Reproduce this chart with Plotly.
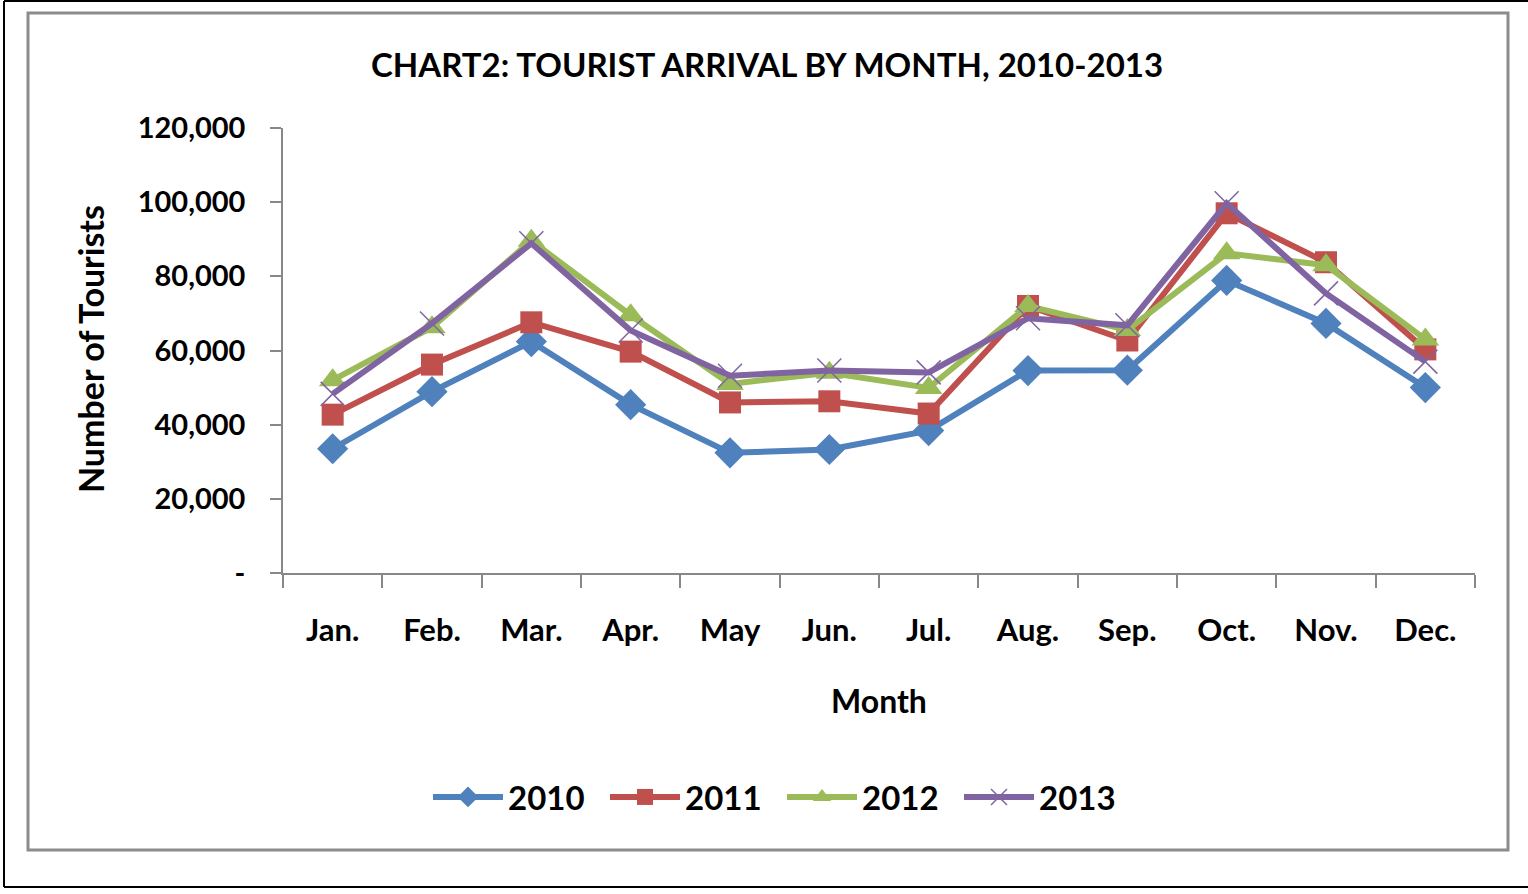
import plotly.graph_objects as go

months = ["Jan.", "Feb.", "Mar.", "Apr.", "May", "Jun.", "Jul.", "Aug.", "Sep.", "Oct.", "Nov.", "Dec."]
y2010 = [33500, 48900, 62400, 45400, 32400, 33300, 38400, 54600, 54700, 78900, 67300, 50000]
y2011 = [42700, 56200, 67600, 59700, 46000, 46300, 43000, 72000, 62700, 97000, 83800, 60300]
y2012 = [52000, 66300, 89600, 69500, 51000, 54000, 49900, 72000, 65500, 86200, 83000, 63000]
y2013 = [48300, 67300, 88900, 65400, 53200, 54600, 54100, 68700, 66800, 99700, 75400, 57000]
ytickvals = [0, 20000, 40000, 60000, 80000, 100000, 120000]
yticktext = ["-", "20,000", "40,000", "60,000", "80,000", "100,000", "120,000"]

series = [
    ("2010", y2010, "#4F81BD", "diamond", 24),
    ("2011", y2011, "#C0504D", "square", 22),
    ("2012", y2012, "#9BBB59", "triangle-up", 24),
    ("2013", y2013, "#8064A2", "x-thin", 24),
]

FONT = "Lato"
W, H = 1528, 894
L, R, T, B = 283, 1475, 128, 573
PW, PH = R - L, B - T


def px(x):
    return (x - L) / PW


def py(y):
    return (B - y) / PH


fig = go.Figure()
for name, vals, col, sym, size in series:
    marker = dict(symbol=sym, size=size, color=col)
    if sym == "x-thin":
        marker = dict(symbol=sym, size=size, color=col, line=dict(color=col, width=1.5))
    fig.add_trace(go.Scatter(
        x=months, y=vals, name=name, mode="lines+markers",
        line=dict(color=col, width=6), marker=marker,
    ))

fig.update_layout(
    width=W, height=H,
    margin=dict(l=L, r=W - R, t=T, b=H - B),
    paper_bgcolor="white", plot_bgcolor="white",
    font=dict(family=FONT, color="black"),
    showlegend=True,
    legend=dict(
        orientation="h", x=px(782), xanchor="center", y=py(797), yanchor="middle",
        font=dict(family=FONT, size=33, color="black", weight="bold"),
        itemwidth=70, entrywidth=92, entrywidthmode="pixels", tracegroupgap=0,
    ),
    xaxis=dict(
        type="category", range=[-0.5, 11.5], showgrid=False, showline=True,
        linecolor="#888888", linewidth=1.5, ticks="outside", ticklen=13,
        tickcolor="#888888", tickwidth=1.5, tickson="boundaries",
        tickfont=dict(family=FONT, size=31, color="black", weight="bold"),
        ticklabelstandoff=29, zeroline=False,
    ),
    yaxis=dict(
        range=[0, 120000], showgrid=False, showline=True, linecolor="#888888",
        linewidth=1.5, ticks="outside", ticklen=11, tickcolor="#888888", tickwidth=1.5,
        tickvals=ytickvals, ticktext=yticktext,
        tickfont=dict(family=FONT, size=29, color="black", weight="bold"),
        ticklabelstandoff=19, zeroline=False,
    ),
    annotations=[
        dict(text="CHART2: TOURIST ARRIVAL BY MONTH, 2010-2013", x=px(767), y=py(64),
             xref="paper", yref="paper", showarrow=False, xanchor="center", yanchor="middle",
             font=dict(family=FONT, size=33, color="black", weight="bold")),
        dict(text="Number of Tourists", x=px(90), y=py(349), textangle=-90,
             xref="paper", yref="paper", showarrow=False, xanchor="center", yanchor="middle",
             font=dict(family=FONT, size=34, color="black", weight="bold")),
        dict(text="Month", x=px(879), y=py(700),
             xref="paper", yref="paper", showarrow=False, xanchor="center", yanchor="middle",
             font=dict(family=FONT, size=32, color="black", weight="bold")),
    ],
    shapes=[
        dict(type="rect", xref="paper", yref="paper", x0=px(28), x1=px(1508), y0=py(850), y1=py(13),
             line=dict(color="#8c8c8c", width=3), layer="below"),
        dict(type="line", xref="paper", yref="paper", x0=px(4), x1=px(4), y0=py(1), y1=py(887),
             line=dict(color="black", width=2)),
        dict(type="line", xref="paper", yref="paper", x0=px(4), x1=px(1528), y0=py(1), y1=py(1),
             line=dict(color="black", width=2)),
        dict(type="line", xref="paper", yref="paper", x0=px(4), x1=px(1528), y0=py(887), y1=py(887),
             line=dict(color="black", width=2)),
    ],
)

fig.write_html("out.html", config={"displayModeBar": False},
               post_script="document.body.style.margin='0px';document.body.style.padding='0px';")
